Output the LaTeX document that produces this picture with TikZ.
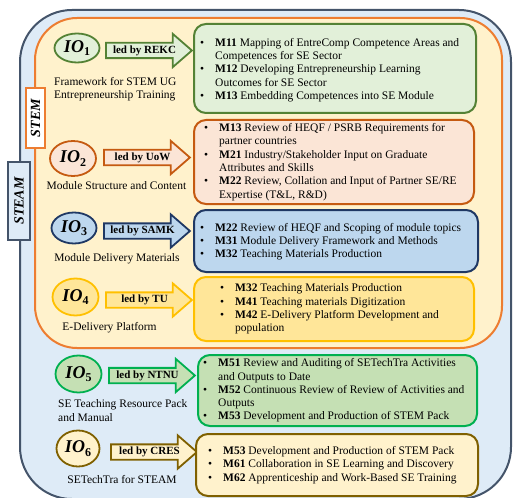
\documentclass[tikz,border=0pt]{standalone}
\usepackage{fontspec}
\setmainfont{Liberation Serif}
\usetikzlibrary{shapes.geometric,shapes.arrows}
\definecolor{gfill}{HTML}{E2F0D9}\definecolor{gline}{HTML}{548235}
\definecolor{ofill}{HTML}{FBE5D6}\definecolor{oline}{HTML}{C55A11}
\definecolor{bfill}{HTML}{BDD7EE}\definecolor{bline}{HTML}{1F3864}
\definecolor{yfill}{HTML}{FFE699}\definecolor{yline}{HTML}{FFC000}
\definecolor{g5fill}{HTML}{C5E0B4}\definecolor{g5line}{HTML}{00B050}
\definecolor{cfill}{HTML}{FFF2CC}\definecolor{cline}{HTML}{7F6000}
\definecolor{stemline}{HTML}{ED7D31}\definecolor{stemfill}{HTML}{FFF2CC}
\definecolor{steamline}{HTML}{44546A}\definecolor{steamfill}{HTML}{DEEBF7}
\newlength\bulind \setlength\bulind{15pt}
\newcommand\mbul[1]{\makebox[\bulind][l]{\textbullet}\textbf{#1}\ }
\newcommand\mcont{\hspace*{\bulind}}
\newcommand\iol[1]{{\fontsize{18}{18}\selectfont\bfseries\itshape IO}\raisebox{-3.5pt}{\fontsize{12}{12}\selectfont\bfseries #1}}
\tikzset{
  ioell/.style={ellipse, line width=1.8pt, inner sep=0pt},
  ledarrow/.style={single arrow, line width=1.8pt, minimum height=86pt,
    single arrow head extend=9pt, single arrow tip angle=82,
    text height=8pt, text depth=2.5pt, inner ysep=1.5pt, inner xsep=1pt,
    anchor=tail, font=\fontsize{11}{12}\selectfont\bfseries},
  mbox/.style={rectangle, rounded corners=12pt, line width=2pt, anchor=north west},
  mtext/.style={align=left, inner sep=0pt, anchor=west, font=\fontsize{11.5}{13.3}\selectfont},
  captxt/.style={align=left, inner sep=0pt, font=\fontsize{11.5}{13.3}\selectfont},
  lbl/.style={rotate=90, inner sep=0pt, line width=2pt, font=\fontsize{14}{14}\selectfont\bfseries\itshape}
}
\begin{document}
\begin{tikzpicture}[x=1pt,y=-1pt]
\useasboundingbox (0,0) rectangle (513,497);
% frames
\draw[line width=2pt, draw=steamline, fill=steamfill, rounded corners=52pt] (20,10) rectangle (511,499);
\draw[line width=2pt, draw=stemline, fill=stemfill, rounded corners=42pt] (35,18) rectangle (502,348);
\node[lbl, draw=stemline, fill=white, minimum width=60pt, minimum height=19pt] (stem) at (35.5,118) {STEM};
\node[lbl, draw=steamline, fill=steamfill, minimum width=78pt, minimum height=22pt] (steam) at (19,201) {STEAM};
% row 1
\node[ioell, draw=gline, fill=gfill, minimum width=45pt, minimum height=29pt] (io1) at (77,48) {\iol{1}};
\node[ledarrow, draw=gline, fill=gfill] (a1) at (105,50.5) {led by REKC};
\node[mbox, draw=gline, fill=gfill, minimum width=282pt, minimum height=89pt] (b1) at (193,23) {};
\node[mtext] (t1) at (200,70) {\mbul{M11}Mapping of EntreComp Competence Areas and\\\mcont Competences for SE Sector\\\mbul{M12}Developing Entrepreneurship Learning\\\mcont Outcomes for SE Sector\\\mbul{M13}Embedding Competences into SE Module};
\node[captxt, anchor=west] (c1) at (54,89) {Framework for STEM UG\\Entrepreneurship Training};
% row 2
\node[ioell, draw=oline, fill=ofill, minimum width=46pt, minimum height=35pt] (io2) at (73,158.5) {\iol{2}};
\node[ledarrow, draw=oline, fill=ofill] (a2) at (103,157.5) {led by UoW};
\node[mbox, draw=oline, fill=ofill, minimum width=280pt, minimum height=84pt] (b2) at (193,119) {};
\node[mtext] (t2) at (204,162) {\mbul{M13}Review of HEQF / PSRB Requirements for\\\mcont partner countries\\\mbul{M21}Industry/Stakeholder Input on Graduate\\\mcont Attributes and Skills\\\mbul{M22}Review, Collation and Input of Partner SE/RE\\\mcont Expertise (T\&L, R\&D)};
\node[captxt] (c2) at (116.5,186) {Module Structure and Content};
% row 3
\node[ioell, draw=bline, fill=bfill, minimum width=45pt, minimum height=31pt] (io3) at (74,228) {\iol{3}};
\node[ledarrow, draw=bline, fill=bfill] (a3) at (103,231) {led by SAMK};
\node[mbox, draw=bline, fill=bfill, minimum width=284pt, minimum height=62pt] (b3) at (193,209) {};
\node[mtext] (t3) at (200,241.5) {\mbul{M22}Review of HEQF and Scoping of module topics\\\mbul{M31}Module Delivery Framework and Methods\\\mbul{M32}Teaching Materials Production};
\node[captxt] (c3) at (117,259) {Module Delivery Materials};
% row 4
\node[ioell, draw=yline, fill=yfill, minimum width=46pt, minimum height=37pt] (io4) at (75.5,297) {\iol{4}};
\node[ledarrow, draw=yline, fill=yfill] (a4) at (105,300) {led by TU};
\node[mbox, draw=yline, fill=yfill, minimum width=280pt, minimum height=64pt] (b4) at (193,276) {};
\node[mtext] (t4) at (220,309) {\mbul{M32}Teaching Materials Production\\\mbul{M41}Teaching materials Digitization\\\mbul{M42}E-Delivery Platform Development and\\\mcont population};
\node[captxt] (c4) at (109.5,328) {E-Delivery Platform};
% row 5
\node[ioell, draw=g5line, fill=g5fill, minimum width=46pt, minimum height=37pt] (io5) at (78.5,374) {\iol{5}};
\node[ledarrow, draw=g5line, fill=g5fill] (a5) at (108,375.5) {led by NTNU};
\node[mbox, draw=g5line, fill=g5fill, minimum width=279pt, minimum height=71pt] (b5) at (197,354) {};
\node[mtext] (t5) at (203,390.5) {\mbul{M51}Review and Auditing of SETechTra Activities\\\mcont and Outputs to Date\\\mbul{M52}Continuous Review of Review of Activities and\\\mcont Outputs\\\mbul{M53}Development and Production of STEM Pack};
\node[captxt, anchor=west] (c5) at (58,410.5) {SE Teaching Resource Pack\\and Manual};
% row 6
\node[ioell, draw=cline, fill=cfill, minimum width=43pt, minimum height=36pt] (io6) at (78,448.5) {\iol{6}};
\node[ledarrow, draw=cline, fill=cfill] (a6) at (110,452) {led by CRES};
\node[mbox, draw=cline, fill=cfill, minimum width=282pt, minimum height=62pt] (b6) at (195,433) {};
\node[mtext] (t6) at (208,465) {\mbul{M53}Development and Production of STEM Pack\\\mbul{M61}Collaboration in SE Learning and Discovery\\\mbul{M62}Apprenticeship and Work-Based SE Training};
\node[captxt] (c6) at (122,480) {SETechTra for STEAM};
\end{tikzpicture}
\end{document}
